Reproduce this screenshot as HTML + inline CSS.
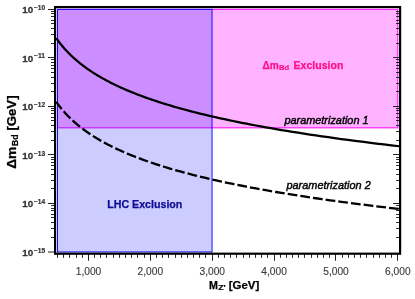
<!DOCTYPE html>
<html><head><meta charset="utf-8"><title>plot</title>
<style>html,body{margin:0;padding:0;background:#fff;}svg{display:block;will-change:transform;font-family:"Liberation Sans",sans-serif;}</style></head><body>
<svg width="415" height="299" viewBox="0 0 415 299">
<rect x="0" y="0" width="415" height="299" fill="#fff"/>
<rect x="57.50" y="9.35" width="340.30" height="118.50" fill="rgb(255,0,255)" fill-opacity="0.3" stroke="rgb(255,0,255)" stroke-opacity="1" stroke-width="1"/>
<rect x="57.50" y="9.35" width="154.55" height="242.60" fill="rgb(0,0,255)" fill-opacity="0.2" stroke="rgb(0,0,255)" stroke-opacity="1" stroke-width="0.92"/>
<path d="M56.20,38.07 L56.83,38.97 L57.48,39.87 L58.14,40.77 L58.81,41.67 L59.50,42.57 L60.20,43.48 L60.92,44.38 L61.65,45.28 L62.40,46.18 L63.16,47.08 L63.94,47.98 L64.74,48.88 L65.55,49.79 L66.38,50.69 L67.23,51.59 L68.10,52.49 L68.98,53.39 L69.89,54.29 L70.81,55.20 L71.76,56.10 L72.72,57.00 L73.70,57.90 L74.71,58.80 L75.74,59.70 L76.78,60.60 L77.85,61.51 L78.95,62.41 L80.06,63.31 L81.21,64.21 L82.37,65.11 L83.56,66.01 L84.78,66.91 L86.02,67.82 L87.28,68.72 L88.58,69.62 L89.90,70.52 L91.25,71.42 L92.63,72.32 L94.04,73.23 L95.48,74.13 L96.95,75.03 L98.45,75.93 L99.98,76.83 L101.54,77.73 L103.14,78.63 L104.78,79.54 L106.44,80.44 L108.15,81.34 L109.89,82.24 L111.66,83.14 L113.48,84.04 L115.33,84.95 L117.22,85.85 L119.15,86.75 L121.13,87.65 L123.14,88.55 L125.20,89.45 L127.31,90.35 L129.45,91.26 L131.65,92.16 L133.89,93.06 L136.18,93.96 L138.51,94.86 L140.90,95.76 L143.34,96.66 L145.83,97.57 L148.37,98.47 L150.97,99.37 L153.62,100.27 L156.33,101.17 L159.09,102.07 L161.92,102.98 L164.81,103.88 L167.75,104.78 L170.76,105.68 L173.84,106.58 L176.98,107.48 L180.18,108.38 L183.46,109.29 L186.80,110.19 L190.22,111.09 L193.71,111.99 L197.27,112.89 L200.91,113.79 L204.63,114.69 L208.43,115.60 L212.30,116.50 L216.26,117.40 L220.31,118.30 L224.44,119.20 L228.66,120.10 L232.96,121.01 L237.37,121.91 L241.86,122.81 L246.45,123.71 L251.14,124.61 L255.93,125.51 L260.82,126.41 L265.81,127.32 L270.91,128.22 L276.12,129.12 L281.44,130.02 L286.87,130.92 L292.42,131.82 L298.09,132.73 L303.88,133.63 L309.79,134.53 L315.83,135.43 L322.00,136.33 L328.30,137.23 L334.73,138.13 L341.30,139.04 L348.01,139.94 L354.86,140.84 L361.86,141.74 L369.01,142.64 L376.31,143.54 L383.77,144.44 L391.38,145.35 L399.16,146.25" fill="none" stroke="#000" stroke-width="2.25" stroke-linejoin="round"/>
<path d="M56.20,101.78 L56.83,102.68 L57.48,103.57 L58.14,104.46 L58.81,105.36 L59.50,106.25 L60.20,107.14 L60.92,108.04 L61.65,108.93 L62.40,109.82 L63.16,110.72 L63.94,111.61 L64.74,112.50 L65.55,113.40 L66.38,114.29 L67.23,115.18 L68.10,116.08 L68.98,116.97 L69.89,117.86 L70.81,118.76 L71.76,119.65 L72.72,120.54 L73.70,121.44 L74.71,122.33 L75.74,123.22 L76.78,124.11 L77.85,125.01 L78.95,125.90 L80.06,126.79 L81.21,127.69 L82.37,128.58 L83.56,129.47 L84.78,130.37 L86.02,131.26 L87.28,132.15 L88.58,133.05 L89.90,133.94 L91.25,134.83 L92.63,135.73 L94.04,136.62 L95.48,137.51 L96.95,138.41 L98.45,139.30 L99.98,140.19 L101.54,141.09 L103.14,141.98 L104.78,142.87 L106.44,143.77 L108.15,144.66 L109.89,145.55 L111.66,146.45 L113.48,147.34 L115.33,148.23 L117.22,149.13 L119.15,150.02 L121.13,150.91 L123.14,151.81 L125.20,152.70 L127.31,153.59 L129.45,154.49 L131.65,155.38 L133.89,156.27 L136.18,157.17 L138.51,158.06 L140.90,158.95 L143.34,159.85 L145.83,160.74 L148.37,161.63 L150.97,162.53 L153.62,163.42 L156.33,164.31 L159.09,165.21 L161.92,166.10 L164.81,166.99 L167.75,167.88 L170.76,168.78 L173.84,169.67 L176.98,170.56 L180.18,171.46 L183.46,172.35 L186.80,173.24 L190.22,174.14 L193.71,175.03 L197.27,175.92 L200.91,176.82 L204.63,177.71 L208.43,178.60 L212.30,179.50 L216.26,180.39 L220.31,181.28 L224.44,182.18 L228.66,183.07 L232.96,183.96 L237.37,184.86 L241.86,185.75 L246.45,186.64 L251.14,187.54 L255.93,188.43 L260.82,189.32 L265.81,190.22 L270.91,191.11 L276.12,192.00 L281.44,192.90 L286.87,193.79 L292.42,194.68 L298.09,195.58 L303.88,196.47 L309.79,197.36 L315.83,198.26 L322.00,199.15 L328.30,200.04 L334.73,200.94 L341.30,201.83 L348.01,202.72 L354.86,203.62 L361.86,204.51 L369.01,205.40 L376.31,206.30 L383.77,207.19 L391.38,208.08 L399.16,208.98" fill="none" stroke="#000" stroke-width="2.3" stroke-dasharray="9.75 3.03" stroke-dashoffset="0.67" stroke-linejoin="round"/>
<path d="M48.00,252.00H55.10M48.00,203.50H55.10M393.10,203.50H400.10M48.00,154.50H55.10M393.10,154.50H400.10M48.00,106.50H55.10M393.10,106.50H400.10M48.00,57.50H55.10M393.10,57.50H400.10M48.00,9.50H55.10M88.50,253.70V260.75M150.50,253.70V260.75M212.50,253.70V260.75M274.50,253.70V260.75M335.50,253.70V260.75M397.50,253.70V260.75" stroke="#222" stroke-width="1" fill="none"/>
<path d="M51.00,237.50H55.10M396.10,237.50H400.10M51.00,228.50H55.10M396.10,228.50H400.10M51.00,222.50H55.10M396.10,222.50H400.10M51.00,217.50H55.10M396.10,217.50H400.10M51.00,214.50H55.10M396.10,214.50H400.10M51.00,210.50H55.10M396.10,210.50H400.10M51.00,208.50H55.10M396.10,208.50H400.10M51.00,205.50H55.10M396.10,205.50H400.10M51.00,188.50H55.10M396.10,188.50H400.10M51.00,180.50H55.10M396.10,180.50H400.10M51.00,174.50H55.10M396.10,174.50H400.10M51.00,169.50H55.10M396.10,169.50H400.10M51.00,165.50H55.10M396.10,165.50H400.10M51.00,162.50H55.10M396.10,162.50H400.10M51.00,159.50H55.10M396.10,159.50H400.10M51.00,157.50H55.10M396.10,157.50H400.10M51.00,140.50H55.10M396.10,140.50H400.10M51.00,131.50H55.10M396.10,131.50H400.10M51.00,125.50H55.10M396.10,125.50H400.10M51.00,120.50H55.10M396.10,120.50H400.10M51.00,117.50H55.10M396.10,117.50H400.10M51.00,113.50H55.10M396.10,113.50H400.10M51.00,110.50H55.10M396.10,110.50H400.10M51.00,108.50H55.10M396.10,108.50H400.10M51.00,91.50H55.10M396.10,91.50H400.10M51.00,83.50H55.10M396.10,83.50H400.10M51.00,77.50H55.10M396.10,77.50H400.10M51.00,72.50H55.10M396.10,72.50H400.10M51.00,68.50H55.10M396.10,68.50H400.10M51.00,65.50H55.10M396.10,65.50H400.10M51.00,62.50H55.10M396.10,62.50H400.10M51.00,59.50H55.10M396.10,59.50H400.10M51.00,43.50H55.10M396.10,43.50H400.10M51.00,34.50H55.10M396.10,34.50H400.10M51.00,28.50H55.10M396.10,28.50H400.10M51.00,23.50H55.10M396.10,23.50H400.10M51.00,20.50H55.10M396.10,20.50H400.10M51.00,16.50H55.10M396.10,16.50H400.10M51.00,13.50H55.10M396.10,13.50H400.10M51.00,11.50H55.10M396.10,11.50H400.10M57.50,253.70V257.85M63.50,253.70V257.85M69.50,253.70V257.85M76.50,253.70V257.85M82.50,253.70V257.85M94.50,253.70V257.85M100.50,253.70V257.85M106.50,253.70V257.85M113.50,253.70V257.85M119.50,253.70V257.85M125.50,253.70V257.85M131.50,253.70V257.85M137.50,253.70V257.85M144.50,253.70V257.85M156.50,253.70V257.85M162.50,253.70V257.85M168.50,253.70V257.85M175.50,253.70V257.85M181.50,253.70V257.85M187.50,253.70V257.85M193.50,253.70V257.85M199.50,253.70V257.85M205.50,253.70V257.85M218.50,253.70V257.85M224.50,253.70V257.85M230.50,253.70V257.85M236.50,253.70V257.85M243.50,253.70V257.85M249.50,253.70V257.85M255.50,253.70V257.85M261.50,253.70V257.85M267.50,253.70V257.85M280.50,253.70V257.85M286.50,253.70V257.85M292.50,253.70V257.85M298.50,253.70V257.85M304.50,253.70V257.85M311.50,253.70V257.85M317.50,253.70V257.85M323.50,253.70V257.85M329.50,253.70V257.85M342.50,253.70V257.85M348.50,253.70V257.85M354.50,253.70V257.85M360.50,253.70V257.85M366.50,253.70V257.85M373.50,253.70V257.85M379.50,253.70V257.85M385.50,253.70V257.85M391.50,253.70V257.85" stroke="#111" stroke-width="0.9" fill="none"/>
<rect x="55.1" y="7.08" width="345.00" height="246.62" fill="none" stroke="#000" stroke-width="2.2"/>
<g style="mix-blend-mode:multiply">
<text x="22.2" y="255.75" font-size="9.8" font-weight="bold" fill="#333" stroke="#333" stroke-width="0.3" textLength="10.9" lengthAdjust="spacingAndGlyphs">10</text>
<text x="34" y="252.55" font-size="6.4" font-weight="bold" fill="#333" stroke="#333" stroke-width="0.2" textLength="11.1" lengthAdjust="spacingAndGlyphs">−15</text>
<text x="22.2" y="207.23" font-size="9.8" font-weight="bold" fill="#333" stroke="#333" stroke-width="0.3" textLength="10.9" lengthAdjust="spacingAndGlyphs">10</text>
<text x="34" y="204.03" font-size="6.4" font-weight="bold" fill="#333" stroke="#333" stroke-width="0.2" textLength="11.1" lengthAdjust="spacingAndGlyphs">−14</text>
<text x="22.2" y="158.71" font-size="9.8" font-weight="bold" fill="#333" stroke="#333" stroke-width="0.3" textLength="10.9" lengthAdjust="spacingAndGlyphs">10</text>
<text x="34" y="155.51" font-size="6.4" font-weight="bold" fill="#333" stroke="#333" stroke-width="0.2" textLength="11.1" lengthAdjust="spacingAndGlyphs">−13</text>
<text x="22.2" y="110.19" font-size="9.8" font-weight="bold" fill="#333" stroke="#333" stroke-width="0.3" textLength="10.9" lengthAdjust="spacingAndGlyphs">10</text>
<text x="34" y="106.99" font-size="6.4" font-weight="bold" fill="#333" stroke="#333" stroke-width="0.2" textLength="11.1" lengthAdjust="spacingAndGlyphs">−12</text>
<text x="22.2" y="61.67" font-size="9.8" font-weight="bold" fill="#333" stroke="#333" stroke-width="0.3" textLength="10.9" lengthAdjust="spacingAndGlyphs">10</text>
<text x="34" y="58.47" font-size="6.4" font-weight="bold" fill="#333" stroke="#333" stroke-width="0.2" textLength="11.1" lengthAdjust="spacingAndGlyphs">−11</text>
<text x="22.2" y="13.15" font-size="9.8" font-weight="bold" fill="#333" stroke="#333" stroke-width="0.3" textLength="10.9" lengthAdjust="spacingAndGlyphs">10</text>
<text x="34" y="9.95" font-size="6.4" font-weight="bold" fill="#333" stroke="#333" stroke-width="0.2" textLength="11.1" lengthAdjust="spacingAndGlyphs">−10</text>
<text x="75.74" y="275" font-size="10.8" fill="#3c3c3c" stroke="#3c3c3c" stroke-width="0.15" textLength="25.5" lengthAdjust="spacingAndGlyphs">1,000</text>
<text x="137.61" y="275" font-size="10.8" fill="#3c3c3c" stroke="#3c3c3c" stroke-width="0.15" textLength="25.5" lengthAdjust="spacingAndGlyphs">2,000</text>
<text x="199.48" y="275" font-size="10.8" fill="#3c3c3c" stroke="#3c3c3c" stroke-width="0.15" textLength="25.5" lengthAdjust="spacingAndGlyphs">3,000</text>
<text x="261.35" y="275" font-size="10.8" fill="#3c3c3c" stroke="#3c3c3c" stroke-width="0.15" textLength="25.5" lengthAdjust="spacingAndGlyphs">4,000</text>
<text x="323.23" y="275" font-size="10.8" fill="#3c3c3c" stroke="#3c3c3c" stroke-width="0.15" textLength="25.5" lengthAdjust="spacingAndGlyphs">5,000</text>
<text x="385.10" y="275" font-size="10.8" fill="#3c3c3c" stroke="#3c3c3c" stroke-width="0.15" textLength="25.5" lengthAdjust="spacingAndGlyphs">6,000</text>
<text x="209.1" y="289.3" font-size="10.6" font-weight="bold" fill="#000" stroke="#000" stroke-width="0.25" textLength="8.9" lengthAdjust="spacingAndGlyphs">M</text>
<text x="218.3" y="290.4" font-size="6.6" font-weight="bold" fill="#000" stroke="#000" stroke-width="0.2" textLength="7.4" lengthAdjust="spacingAndGlyphs">Z'</text>
<text x="228.7" y="289.3" font-size="10.8" font-weight="bold" fill="#000" stroke="#000" stroke-width="0.25" textLength="30.5" lengthAdjust="spacingAndGlyphs">[GeV]</text>
<g transform="translate(16.05,168.8) rotate(-90)">
<text x="0" y="0" font-size="12.4" font-weight="bold" fill="#000" stroke="#000" stroke-width="0.25" textLength="22.2" lengthAdjust="spacingAndGlyphs">Δm</text>
<text x="22.9" y="2.2" font-size="8.2" font-weight="bold" fill="#000" stroke="#000" stroke-width="0.2" textLength="11.5" lengthAdjust="spacingAndGlyphs">Bd</text>
<text x="38.3" y="0" font-size="12.4" font-weight="bold" fill="#000" stroke="#000" stroke-width="0.25" textLength="35" lengthAdjust="spacingAndGlyphs">[GeV]</text>
</g>
<text x="262.4" y="68.8" font-size="10.8" font-weight="bold" fill="rgb(255,20,135)" stroke="rgb(255,20,135)" stroke-width="0.25" textLength="16.2" lengthAdjust="spacingAndGlyphs">Δm</text>
<text x="279.0" y="69.6" font-size="7.6" font-weight="bold" fill="rgb(255,20,135)" stroke="rgb(255,20,135)" stroke-width="0.2" textLength="10.1" lengthAdjust="spacingAndGlyphs">Bd</text>
<text x="293.6" y="68.8" font-size="10.8" font-weight="bold" fill="rgb(255,20,135)" stroke="rgb(255,20,135)" stroke-width="0.25" textLength="49.8" lengthAdjust="spacingAndGlyphs">Exclusion</text>
<text x="107.2" y="207.6" font-size="10.8" font-weight="bold" fill="rgb(14,14,152)" stroke="rgb(14,14,152)" stroke-width="0.25" textLength="75.2" lengthAdjust="spacingAndGlyphs">LHC Exclusion</text>
<text x="284.4" y="123.8" font-size="11" font-style="italic" fill="#000" stroke="#000" stroke-width="0.42" textLength="84.2" lengthAdjust="spacingAndGlyphs">parametrization 1</text>
<text x="286.5" y="188.8" font-size="11" font-style="italic" fill="#000" stroke="#000" stroke-width="0.42" textLength="84.2" lengthAdjust="spacingAndGlyphs">parametrization 2</text>
</g>
</svg></body></html>
